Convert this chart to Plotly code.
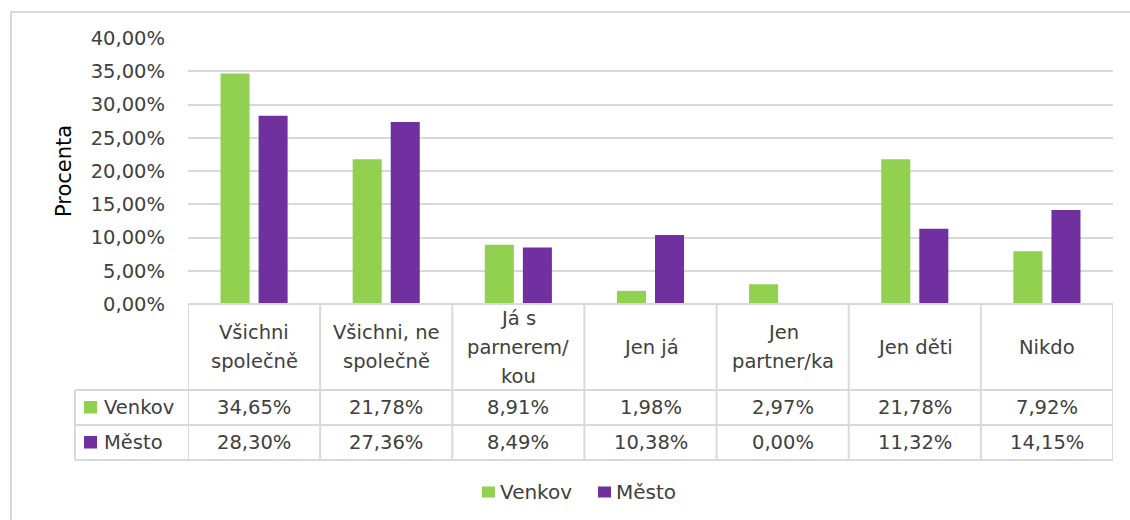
import plotly.graph_objects as go

categories = ["Všichni<br>společně", "Všichni, ne<br>společně", "Já s<br>parnerem/<br>kou",
              "Jen já", "Jen<br>partner/ka", "Jen děti", "Nikdo"]
series_names = ["Venkov", "Město"]
venkov = [34.65, 21.78, 8.91, 1.98, 2.97, 21.78, 7.92]
mesto = [28.30, 27.36, 8.49, 10.38, 0.00, 11.32, 14.15]
colors = ["#92D050", "#7030A0"]
y_title = "Procenta"

W, H = 1130, 520
FONT = "DejaVu Sans"
FS = 19.5
TXT = "#404040"
GRID = "#d9d9d9"

def px(x):
    return x / W

def py(y):
    return 1 - y / H

X0, X1 = 188, 1113
Y_TOP, Y_ZERO = 38, 304
ROW1, ROW2, ROW3 = 390, 425, 460
LEFT = 75

fig = go.Figure()
values = [venkov, mesto]
xs = list(range(len(categories)))
for name, vals, col in zip(series_names, values, colors):
    fig.add_trace(go.Bar(x=xs, y=vals, name=name, marker=dict(color=col, line=dict(width=0)),
                         showlegend=False, hoverinfo="skip"))

shapes = []
annotations = []
line = dict(color=GRID, width=2)

# table grid
shapes.append(dict(type="line", xref="paper", yref="paper", x0=px(X0), x1=px(X1), y0=py(Y_ZERO), y1=py(Y_ZERO), line=line))
for yy in (ROW1, ROW2, ROW3):
    shapes.append(dict(type="line", xref="paper", yref="paper", x0=px(LEFT), x1=px(X1), y0=py(yy), y1=py(yy), line=line))
shapes.append(dict(type="line", xref="paper", yref="paper", x0=px(LEFT), x1=px(LEFT), y0=py(ROW1), y1=py(ROW3), line=line))
for i in range(len(categories) + 1):
    shapes.append(dict(type="line", xref="x", yref="paper", x0=i - 0.5, x1=i - 0.5, y0=py(Y_ZERO), y1=py(ROW3), line=line))

# outer chart border
shapes.append(dict(type="rect", xref="paper", yref="paper", x0=px(11), x1=px(1145), y0=py(12), y1=py(535),
                   line=dict(color=GRID, width=2), layer="below"))

# header texts
hdr_c = (Y_ZERO + ROW1) / 2
LS = 29
for i, cat in enumerate(categories):
    parts = cat.split("<br>")
    n = len(parts)
    for k, p in enumerate(parts):
        yy = hdr_c + (k - (n - 1) / 2) * LS
        annotations.append(dict(x=i, xref="x", y=py(yy), yref="paper", text=p, showarrow=False,
                                xanchor="center", yanchor="middle", font=dict(family=FONT, size=FS, color=TXT)))

def fmt(v):
    return f"{v:.2f}".replace(".", ",") + "%"

row_centers = [(ROW1 + ROW2) / 2, (ROW2 + ROW3) / 2]
for r, (name, vals, col) in enumerate(zip(series_names, values, colors)):
    yc = row_centers[r]
    for i, v in enumerate(vals):
        annotations.append(dict(x=i, xref="x", y=py(yc), yref="paper", text=fmt(v), showarrow=False,
                                xanchor="center", yanchor="middle", font=dict(family=FONT, size=FS, color=TXT)))
    shapes.append(dict(type="rect", xref="paper", yref="paper", x0=px(84), x1=px(97), y0=py(yc - 6.5), y1=py(yc + 6),
                       fillcolor=col, line=dict(width=0)))
    annotations.append(dict(x=px(102), xref="paper", y=py(yc), yref="paper", text=name, showarrow=False,
                            xanchor="left", yanchor="middle", font=dict(family=FONT, size=FS, color=TXT)))

# bottom legend
leg_y = 492
leg_x = [482, 598]
for name, col, lx in zip(series_names, colors, leg_x):
    shapes.append(dict(type="rect", xref="paper", yref="paper", x0=px(lx), x1=px(lx + 13), y0=py(leg_y - 5.5), y1=py(leg_y + 5.5),
                       fillcolor=col, line=dict(width=0)))
    annotations.append(dict(x=px(lx + 16), xref="paper", y=py(leg_y), yref="paper", text=name, showarrow=False,
                            xanchor="left", yanchor="middle", font=dict(family=FONT, size=FS + 0.5, color=TXT)))

# y axis title
annotations.append(dict(x=px(64), xref="paper", y=py((Y_TOP + Y_ZERO) / 2), yref="paper", text=y_title,
                        textangle=-90, showarrow=False, xanchor="center", yanchor="middle",
                        font=dict(family=FONT, size=21, color="#000000")))

fig.update_layout(
    width=W, height=H,
    margin=dict(l=0, r=0, t=0, b=0, autoexpand=False),
    paper_bgcolor="white", plot_bgcolor="white",
    barmode="group", bargap=0.424, bargroupgap=0.237,
    separators=", ",
    hovermode=False,
    font=dict(family=FONT, size=FS, color=TXT),
    xaxis=dict(domain=[px(X0), px(X1)], range=[-0.5, len(categories) - 0.5],
               showticklabels=False, showgrid=False, zeroline=False, showline=False, fixedrange=True),
    yaxis=dict(domain=[py(Y_ZERO), py(Y_TOP)], range=[0, 40], dtick=5, tickformat=".2f", ticksuffix="%",
               showgrid=True, gridcolor=GRID, gridwidth=2, zeroline=False, showline=False, fixedrange=True,
               ticklabelstandoff=22, tickfont=dict(family=FONT, size=FS, color=TXT)),
    shapes=shapes,
    annotations=annotations,
)

fig.write_html("out.html", config={"displayModeBar": False, "staticPlot": True},
               post_script="document.body.style.margin='0';")
